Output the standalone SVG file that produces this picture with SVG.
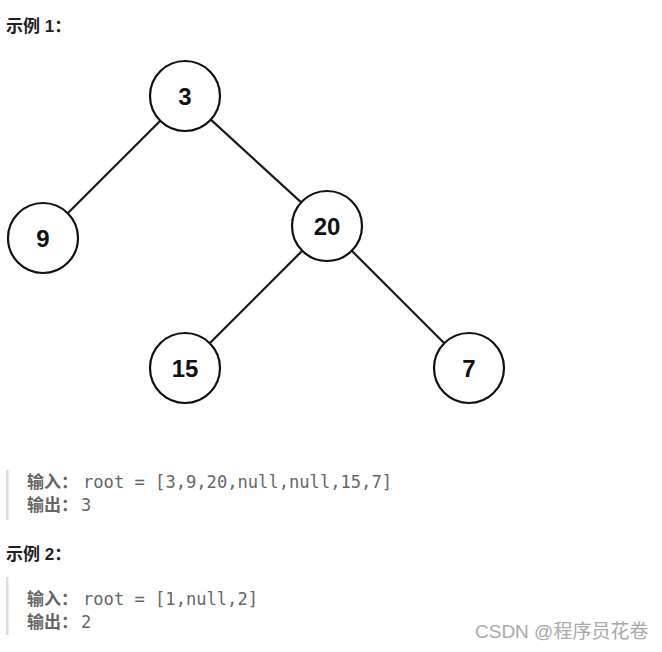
<svg xmlns="http://www.w3.org/2000/svg" width="662" height="652" viewBox="0 0 662 652">
<style>
.node circle{fill:#fff;stroke:#111;stroke-width:2.2}
.node text{font-family:"Liberation Sans",Arial,sans-serif;font-weight:bold;font-size:24px;fill:#111;text-anchor:middle}
.edge{stroke:#1a1a1a;stroke-width:2.2;fill:none}
.h{font-family:"Liberation Sans","Noto Sans CJK SC",sans-serif;font-weight:bold;font-size:17px;fill:#222}
.lab{font-family:"Liberation Sans","Noto Sans CJK SC",sans-serif;font-weight:bold;font-size:17px;fill:#666}
.code{font-family:"DejaVu Sans Mono","Liberation Mono",monospace;font-size:17px;fill:#666}
.bar{fill:#ddd}
.wm{font-family:"Liberation Sans","Noto Sans CJK SC",sans-serif;font-size:19px;fill:#aaa}
</style>
<rect width="662" height="652" fill="#fff"/>
<text class="h" x="6" y="32">示例 1：</text>
<g id="connectors">
<line class="edge" x1="160.3" y1="120.7" x2="67.7" y2="213.3"/>
<line class="edge" x1="210.8" y1="119.6" x2="301.2" y2="202.4"/>
<line class="edge" x1="302.3" y1="250.7" x2="209.7" y2="343.3"/>
<line class="edge" x1="351.7" y1="250.7" x2="444.3" y2="343.3"/>
</g>
<g id="n3" class="node"><circle cx="185" cy="96" r="35"/><text x="185" y="105">3</text></g>
<g id="n9" class="node"><circle cx="43" cy="238" r="35"/><text x="43" y="247">9</text></g>
<g id="n20" class="node"><circle cx="327" cy="226" r="35"/><text x="327" y="235">20</text></g>
<g id="n15" class="node"><circle cx="185" cy="368" r="35"/><text x="185" y="377">15</text></g>
<g id="n7" class="node"><circle cx="469" cy="368" r="35"/><text x="469" y="377">7</text></g>
<rect class="bar" x="6" y="470" width="2.5" height="50"/>
<text class="lab" x="27" y="488">输入：</text>
<text class="code" x="83" y="488" textLength="309" lengthAdjust="spacingAndGlyphs">root = [3,9,20,null,null,15,7]</text>
<text class="lab" x="27" y="511">输出：</text>
<text class="code" x="81" y="511">3</text>
<text class="h" x="6" y="560">示例 2：</text>
<rect class="bar" x="6" y="577" width="2.5" height="58"/>
<text class="lab" x="27" y="605">输入：</text>
<text class="code" x="83" y="605" textLength="175" lengthAdjust="spacingAndGlyphs">root = [1,null,2]</text>
<text class="lab" x="27" y="628">输出：</text>
<text class="code" x="81" y="628">2</text>
<text class="wm" x="475" y="638">CSDN @程序员花卷</text>
</svg>
